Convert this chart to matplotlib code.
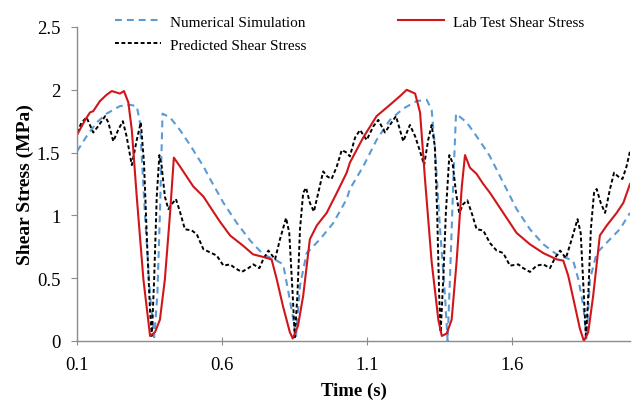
import matplotlib
matplotlib.use("Agg")
import matplotlib.pyplot as plt

# values
t_num = [0.100, 0.133, 0.168, 0.202, 0.248, 0.283, 0.306, 0.317, 0.334, 0.352,
         0.366, 0.377, 0.386, 0.392, 0.395, 0.421, 0.455, 0.490, 0.536, 0.559,
         0.605, 0.651, 0.697, 0.742, 0.789, 0.811, 0.829, 0.846, 0.855, 0.869,
         0.892, 0.938, 0.984, 1.030, 1.041, 1.087, 1.133, 1.179, 1.225, 1.271,
         1.306, 1.323, 1.334, 1.352, 1.369, 1.378, 1.386, 1.398, 1.407, 1.444,
         1.478, 1.513, 1.524, 1.570, 1.616, 1.662, 1.708, 1.754, 1.811, 1.829,
         1.846, 1.857, 1.869, 1.892, 1.938, 1.972, 2.007]
v_num = [1.51, 1.63, 1.74, 1.81, 1.87, 1.88, 1.87, 1.74, 1.02, 0.36,
         0.03, 0.36, 1.02, 1.55, 1.81, 1.78, 1.68, 1.56, 1.39, 1.29,
         1.10, 0.94, 0.80, 0.69, 0.64, 0.61, 0.39, 0.17, 0.03, 0.44,
         0.70, 0.81, 0.94, 1.13, 1.21, 1.39, 1.60, 1.76, 1.85, 1.91,
         1.92, 1.84, 1.55, 0.89, 0.36, 0.00, 0.49, 1.29, 1.81, 1.74,
         1.63, 1.51, 1.47, 1.26, 1.05, 0.89, 0.77, 0.69, 0.64, 0.49,
         0.28, 0.02, 0.49, 0.70, 0.81, 0.89, 1.02]

t_lab = [0.100, 0.128, 0.145, 0.156, 0.179, 0.202, 0.220, 0.248, 0.262, 0.277,
         0.289, 0.306, 0.329, 0.352, 0.369, 0.386, 0.403, 0.421, 0.434, 0.455,
         0.478, 0.501, 0.536, 0.570, 0.593, 0.628, 0.672, 0.707, 0.741, 0.771,
         0.789, 0.810, 0.834, 0.844, 0.862, 0.880, 0.903, 0.927, 0.961, 0.996,
         1.030, 1.041, 1.087, 1.133, 1.179, 1.214, 1.237, 1.266, 1.283, 1.300,
         1.323, 1.346, 1.358, 1.375, 1.392, 1.409, 1.427, 1.438, 1.455, 1.478,
         1.501, 1.524, 1.570, 1.616, 1.662, 1.708, 1.754, 1.777, 1.794, 1.817,
         1.834, 1.848, 1.863, 1.880, 1.903, 1.927, 1.961, 1.984, 2.007]
v_lab = [1.64, 1.76, 1.82, 1.83, 1.91, 1.96, 1.99, 1.97, 1.99, 1.90,
         1.68, 1.15, 0.49, 0.04, 0.07, 0.17, 0.49, 1.02, 1.46, 1.39,
         1.31, 1.23, 1.15, 1.03, 0.95, 0.84, 0.76, 0.69, 0.67, 0.65,
         0.49, 0.28, 0.07, 0.02, 0.12, 0.36, 0.81, 0.92, 1.02, 1.18,
         1.34, 1.42, 1.62, 1.79, 1.88, 1.95, 2.00, 1.97, 1.82, 1.29,
         0.63, 0.17, 0.04, 0.06, 0.17, 0.63, 1.23, 1.48, 1.38, 1.33,
         1.25, 1.18, 1.02, 0.86, 0.77, 0.70, 0.65, 0.64, 0.52, 0.28,
         0.10, 0.00, 0.07, 0.36, 0.84, 0.92, 1.02, 1.10, 1.25]

t_pred = [0.100, 0.116, 0.133, 0.156, 0.173, 0.197, 0.208, 0.225, 0.242, 0.258,
          0.271, 0.289, 0.306, 0.320, 0.331, 0.342, 0.352, 0.358, 0.366, 0.375,
          0.384, 0.392, 0.403, 0.415, 0.427, 0.441, 0.455, 0.472, 0.496, 0.513,
          0.536, 0.564, 0.582, 0.605, 0.628, 0.645, 0.668, 0.691, 0.708, 0.729,
          0.742, 0.760, 0.783, 0.800, 0.821, 0.832, 0.844, 0.851, 0.860, 0.869,
          0.880, 0.890, 0.903, 0.917, 0.932, 0.949, 0.963, 0.978, 0.996, 1.013,
          1.030, 1.041, 1.059, 1.076, 1.099, 1.122, 1.139, 1.162, 1.179, 1.200,
          1.225, 1.248, 1.266, 1.283, 1.297, 1.311, 1.323, 1.334, 1.342, 1.349,
          1.354, 1.363, 1.372, 1.384, 1.395, 1.407, 1.418, 1.432, 1.446, 1.461,
          1.478, 1.501, 1.524, 1.547, 1.570, 1.593, 1.622, 1.639, 1.662, 1.685,
          1.708, 1.731, 1.748, 1.766, 1.786, 1.806, 1.826, 1.837, 1.848, 1.855,
          1.863, 1.872, 1.883, 1.892, 1.906, 1.921, 1.938, 1.952, 1.966, 1.981,
          1.995, 2.007]
v_pred = [1.66, 1.74, 1.78, 1.66, 1.71, 1.79, 1.74, 1.59, 1.68, 1.75,
          1.63, 1.40, 1.60, 1.74, 1.42, 0.76, 0.23, 0.04, 0.49, 1.15,
          1.48, 1.39, 1.15, 1.05, 1.09, 1.13, 1.03, 0.89, 0.88, 0.85,
          0.73, 0.70, 0.68, 0.60, 0.61, 0.58, 0.55, 0.58, 0.61, 0.58,
          0.65, 0.72, 0.65, 0.81, 0.98, 0.86, 0.36, 0.03, 0.36, 0.89,
          1.18, 1.22, 1.10, 1.03, 1.18, 1.35, 1.31, 1.29, 1.39, 1.52,
          1.50, 1.47, 1.62, 1.68, 1.60, 1.71, 1.76, 1.66, 1.72, 1.79,
          1.59, 1.72, 1.63, 1.51, 1.40, 1.60, 1.72, 1.55, 1.02, 0.36,
          0.07, 0.49, 1.02, 1.48, 1.42, 1.18, 1.02, 1.09, 1.12, 1.02,
          0.89, 0.88, 0.78, 0.72, 0.70, 0.60, 0.61, 0.58, 0.55, 0.60,
          0.61, 0.58, 0.66, 0.72, 0.66, 0.81, 0.97, 0.86, 0.36, 0.02,
          0.36, 0.89, 1.18, 1.21, 1.10, 1.02, 1.21, 1.34, 1.31, 1.29,
          1.39, 1.51]

x_ticks = [0.1, 0.6, 1.1, 1.6]
y_ticks = [0, 0.5, 1, 1.5, 2, 2.5]

plt.rcParams['font.family'] = ['Liberation Serif', 'DejaVu Serif']

fig = plt.figure(figsize=(6.38, 4.02), dpi=100)
ax = fig.add_axes([77 / 638, 1 - 342 / 402, 553 / 638, 314 / 402])

ln_num, = ax.plot(t_num, v_num, color='#5B9BD5', lw=1.5, dashes=(3.3, 2.4),
                  label='Numerical Simulation')
ln_pred, = ax.plot(t_pred, v_pred, color='black', lw=1.4, dashes=(2.0, 1.3),
                   label='Predicted Shear Stress')
ln_lab, = ax.plot(t_lab, v_lab, color='#D0161B', lw=1.5,
                  label='Lab Test Shear Stress')

ax.set_xlim(0.1, 2.007)
ax.set_ylim(0, 2.5)
ax.set_xticks(x_ticks)
ax.set_xticklabels(['0.1', '0.6', '1.1', '1.6'])
ax.set_yticks(y_ticks)
ax.set_yticklabels(['0', '0.5', '1', '1.5', '2', '2.5'])

for side in ('top', 'right'):
    ax.spines[side].set_visible(False)
for side in ('left', 'bottom'):
    ax.spines[side].set_color('#8c8c8c')
    ax.spines[side].set_linewidth(1.0)
ax.tick_params(axis='x', direction='inout', length=6, color='#8c8c8c',
               labelsize=13.5, pad=8)
ax.tick_params(axis='y', direction='out', length=4, color='#8c8c8c',
               labelsize=13.5, pad=8)

ax.set_xlabel('Time (s)', fontsize=13.5, fontweight='bold', labelpad=6)
ax.set_ylabel('Shear Stress (MPa)', fontsize=14, fontweight='bold', labelpad=2)

fig.legend(handles=[ln_num, ln_pred, ln_lab], ncol=2, frameon=False,
           loc='upper left', bbox_to_anchor=(115 / 638, 1 - 16 / 402),
           fontsize=11, handlelength=3.0, handletextpad=0.6,
           columnspacing=6.0, labelspacing=0.6, borderpad=0, borderaxespad=0)

fig.savefig('out.png', dpi=100)
